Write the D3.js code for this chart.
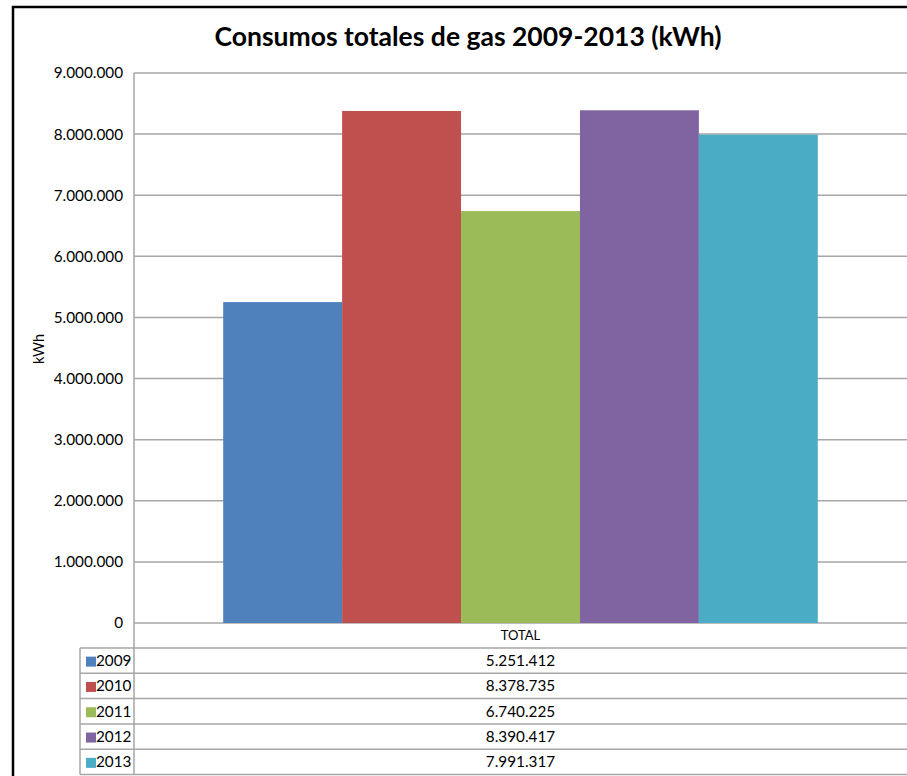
<!DOCTYPE html>
<html lang="es">
<head>
  <meta charset="UTF-8">
  <title>Consumos totales de gas 2009-2013</title>
  <style>
    body { margin: 0; background: #fff; }
    svg { display: block; }
    text { font-family: 'Lato', 'Open Sans', sans-serif; fill: #000; }
    .title { font-weight: bold; font-size: 26.5px; }
    .tick-label, .cell { font-size: 15.3px; }
  </style>
</head>
<body>
  <svg width="907" height="776"></svg>
  <script src="https://d3js.org/d3.v7.min.js"></script>
  <script>
    // data
    const categories = ['TOTAL'];
    const years = ['2009', '2010', '2011', '2012', '2013'];
    const values = [5251412, 8378735, 6740225, 8390417, 7991317];
    const colors = ['#4F81BD', '#C0504D', '#9BBB59', '#8064A2', '#4BACC6'];
    const yTicks = [0, 1000000, 2000000, 3000000, 4000000, 5000000, 6000000, 7000000, 8000000, 9000000];

    const svg = d3.select('svg');
    const W = 907, H = 776;
    const plot = { left: 134, right: 907, top: 73, bottom: 623 };
    const tableTop = 648, tableBottom = 774.5, legendLeft = 80;
    const gridColor = '#a6a6a6';

    // spanish number format, dots as thousands separator
    const es = d3.formatLocale({ decimal: ',', thousands: '.', grouping: [3], currency: ['', ' €'] });
    const fmt = es.format(',d');

    svg.append('rect').attr('width', W).attr('height', H).attr('fill', '#fff');

    // outer chart border (cut off at right/bottom)
    svg.append('rect')
      .attr('x', 13).attr('y', 7)
      .attr('width', W + 50).attr('height', H + 50)
      .attr('fill', 'none')
      .attr('stroke', '#000')
      .attr('stroke-width', 2.5);

    // title
    svg.append('text')
      .attr('class', 'title')
      .attr('x', 468).attr('y', 46)
      .attr('text-anchor', 'middle')
      .text('Consumos totales de gas 2009-2013 (kWh)');

    // scales
    const y = d3.scaleLinear().domain([0, 9000000]).range([plot.bottom, plot.top]);
    const x0 = d3.scaleBand().domain(categories).range([plot.left, plot.right]);
    const x1 = d3.scaleBand().domain(years).range([0, x0.bandwidth()]).paddingOuter(0.75).paddingInner(0);
    const rows = d3.scaleBand().domain(years).range([tableTop, tableBottom]);

    // gridlines
    svg.append('g')
      .selectAll('line')
      .data(yTicks)
      .join('line')
      .attr('x1', plot.left).attr('x2', plot.right)
      .attr('y1', d => y(d)).attr('y2', d => y(d))
      .attr('stroke', gridColor)
      .attr('stroke-width', 1.5);

    // y axis labels
    const yAxis = d3.axisLeft(y).tickValues(yTicks).tickFormat(fmt).tickSize(0).tickPadding(11);
    const gy = svg.append('g')
      .attr('transform', `translate(${plot.left},0)`)
      .call(yAxis);
    gy.select('.domain').remove();
    gy.selectAll('text').attr('class', 'tick-label').attr('fill', '#000').style('font-family', null).style('font-size', null);

    // y axis title
    svg.append('text')
      .attr('transform', 'translate(44,349) rotate(-90)')
      .attr('text-anchor', 'middle')
      .style('font-size', '14.5px')
      .text('kWh');

    // bars
    svg.append('g')
      .selectAll('rect')
      .data(years.map((yr, i) => ({ yr, v: values[i], c: colors[i] })))
      .join('rect')
      .attr('x', d => x0('TOTAL') + x1(d.yr))
      .attr('y', d => y(d.v))
      .attr('width', x1.bandwidth())
      .attr('height', d => y(0) - y(d.v))
      .attr('fill', d => d.c);

    // data table
    const table = svg.append('g');
    // vertical axis line running down into the table
    table.append('line')
      .attr('x1', plot.left).attr('x2', plot.left)
      .attr('y1', plot.top).attr('y2', tableBottom)
      .attr('stroke', gridColor).attr('stroke-width', 1.5);
    // left border of legend column
    table.append('line')
      .attr('x1', legendLeft).attr('x2', legendLeft)
      .attr('y1', tableTop).attr('y2', tableBottom)
      .attr('stroke', gridColor).attr('stroke-width', 1.5);
    // row lines
    const rowLines = years.map(yr => rows(yr)).concat([tableBottom]);
    table.selectAll('line.row')
      .data(rowLines)
      .join('line')
      .attr('class', 'row')
      .attr('x1', legendLeft).attr('x2', plot.right)
      .attr('y1', d => d).attr('y2', d => d)
      .attr('stroke', gridColor).attr('stroke-width', 1.5);

    // header
    table.append('text')
      .attr('x', x0('TOTAL') + x0.bandwidth() / 2)
      .attr('y', (plot.bottom + tableTop) / 2 + 4.5)
      .attr('text-anchor', 'middle')
      .style('font-size', '13px')
      .text(categories[0]);

    const rowG = table.selectAll('g.r')
      .data(years.map((yr, i) => ({ yr, v: values[i], c: colors[i] })))
      .join('g')
      .attr('class', 'r')
      .attr('transform', d => `translate(0,${rows(d.yr) + rows.bandwidth() / 2})`);

    rowG.append('rect')
      .attr('x', 86).attr('y', -4)
      .attr('width', 10).attr('height', 10)
      .attr('fill', d => d.c);

    rowG.append('text')
      .attr('class', 'cell')
      .attr('x', 96).attr('y', 5.5)
      .text(d => d.yr);

    rowG.append('text')
      .attr('class', 'cell')
      .attr('x', x0('TOTAL') + x0.bandwidth() / 2)
      .attr('y', 5.5)
      .attr('text-anchor', 'middle')
      .text(d => fmt(d.v));
  </script>
</body>
</html>
